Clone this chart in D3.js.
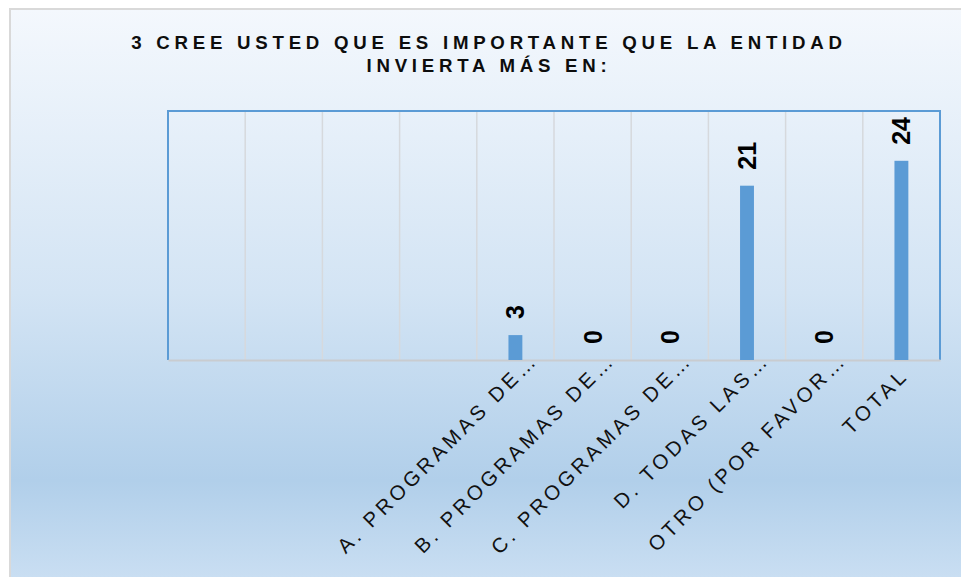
<!DOCTYPE html>
<html>
<head>
<meta charset="utf-8">
<script src="https://cdn.jsdelivr.net/npm/d3@7"></script>
<style>
  body { margin: 0; background: #fff; }
  text { font-family: "Liberation Sans", Arial, sans-serif; }
</style>
</head>
<body>
<div id="graf"></div>
<script>
// datos
const categorias = ['', '', '', '', 'A. PROGRAMAS DE…', 'B. PROGRAMAS DE…', 'C. PROGRAMAS DE…', 'D. TODAS LAS…', 'OTRO (POR FAVOR…', 'TOTAL']
const valores = [null, null, null, null, 3, 0, 0, 21, 0, 24]
const titulo = ['3 CREE USTED QUE ES IMPORTANTE QUE LA ENTIDAD', 'INVIERTA MÁS EN:']
const yMax = 30

const anchoTotal = 961
const altoTotal = 577

const margin = { top: 111, bottom: 217, left: 168, right: 21 }
const ancho = anchoTotal - margin.left - margin.right
const alto = altoTotal - margin.top - margin.bottom

const svg = d3.select('#graf')
  .append('svg')
  .attr('width', anchoTotal)
  .attr('height', altoTotal)

// fondo degradado
const grad = svg.append('defs')
  .append('linearGradient')
  .attr('id', 'fondo')
  .attr('gradientUnits', 'userSpaceOnUse')
  .attr('x1', 0).attr('y1', 9)
  .attr('x2', 0).attr('y2', altoTotal)
grad.append('stop').attr('offset', 0).attr('stop-color', '#f4f8fd')
grad.append('stop').attr('offset', 0.5).attr('stop-color', '#d3e4f4')
grad.append('stop').attr('offset', 0.83).attr('stop-color', '#b1cfea')
grad.append('stop').attr('offset', 1).attr('stop-color', '#c9def2')

svg.append('rect')
  .attr('x', 10).attr('y', 9)
  .attr('width', anchoTotal).attr('height', altoTotal)
  .attr('fill', 'url(#fondo)')
  .attr('stroke', '#d9d9d9')
  .attr('stroke-width', 2)

// titulo
svg.append('g')
  .selectAll('text')
  .data(titulo)
  .enter()
  .append('text')
  .attr('x', 489)
  .attr('y', (d, i) => 49 + i * 23)
  .attr('text-anchor', 'middle')
  .attr('font-size', 18.67)
  .attr('font-weight', 'bold')
  .attr('letter-spacing', 4.75)
  .attr('fill', '#0d0d0d')
  .text(d => d)

const g = svg.append('g')
  .attr('transform', `translate(${margin.left}, ${margin.top})`)

const x = d3.scaleBand()
  .domain(d3.range(categorias.length))
  .range([0, ancho])
  .paddingInner(0)
  .paddingOuter(0)

const y = d3.scaleLinear()
  .domain([0, yMax])
  .range([alto, 0])

// lineas de division verticales
g.append('g')
  .selectAll('line')
  .data(d3.range(1, categorias.length))
  .enter()
  .append('line')
  .attr('x1', d => x(d)).attr('x2', d => x(d))
  .attr('y1', 0).attr('y2', alto)
  .attr('stroke', '#d6d9dd')
  .attr('stroke-width', 1.5)

// borde del area de trazado
g.append('path')
  .attr('d', `M0,${alto}V0H${ancho}V${alto}`)
  .attr('fill', 'none')
  .attr('stroke', '#5b9bd5')
  .attr('stroke-width', 2)

// eje x
const xAxisGroup = g.append('g')
  .attr('transform', `translate(0, ${alto})`)
  .call(d3.axisBottom(x).tickSize(0).tickFormat(i => categorias[i]))
xAxisGroup.select('.domain')
  .attr('stroke', '#c9ccd0')
  .attr('stroke-width', 2)
xAxisGroup.selectAll('text')
  .attr('font-family', '"Liberation Sans", Arial, sans-serif')
  .attr('font-size', 20.5)
  .attr('letter-spacing', 3.8)
  .attr('fill', '#111')
  .attr('text-anchor', 'end')
  .attr('y', 0)
  .attr('dy', 0)
  .attr('transform', (i) => {
    const c = categorias[i]
    const off = c.endsWith('…') ? 0 : -22
    return `translate(${24 + off * 0.707}, ${1 - off * 0.707}) rotate(-45)`
  })

// barras
const barW = x.bandwidth() * 0.18
const datos = valores.map((v, i) => ({ i, v })).filter(d => d.v !== null)

g.selectAll('rect.barra')
  .data(datos)
  .enter()
  .append('rect')
  .attr('class', 'barra')
  .attr('x', d => x(d.i) + x.bandwidth() / 2 - barW / 2)
  .attr('y', d => y(d.v))
  .attr('width', barW)
  .attr('height', d => alto - y(d.v))
  .attr('fill', '#5b9bd5')

// etiquetas de datos
g.selectAll('text.etiq')
  .data(datos)
  .enter()
  .append('text')
  .attr('class', 'etiq')
  .attr('transform', d => `translate(${x(d.i) + x.bandwidth() / 2}, ${y(d.v) - 16}) rotate(-90)`)
  .attr('dy', '0.36em')
  .attr('font-size', 25)
  .attr('font-weight', 'bold')
  .attr('fill', '#000')
  .text(d => d.v)
</script>
</body>
</html>
